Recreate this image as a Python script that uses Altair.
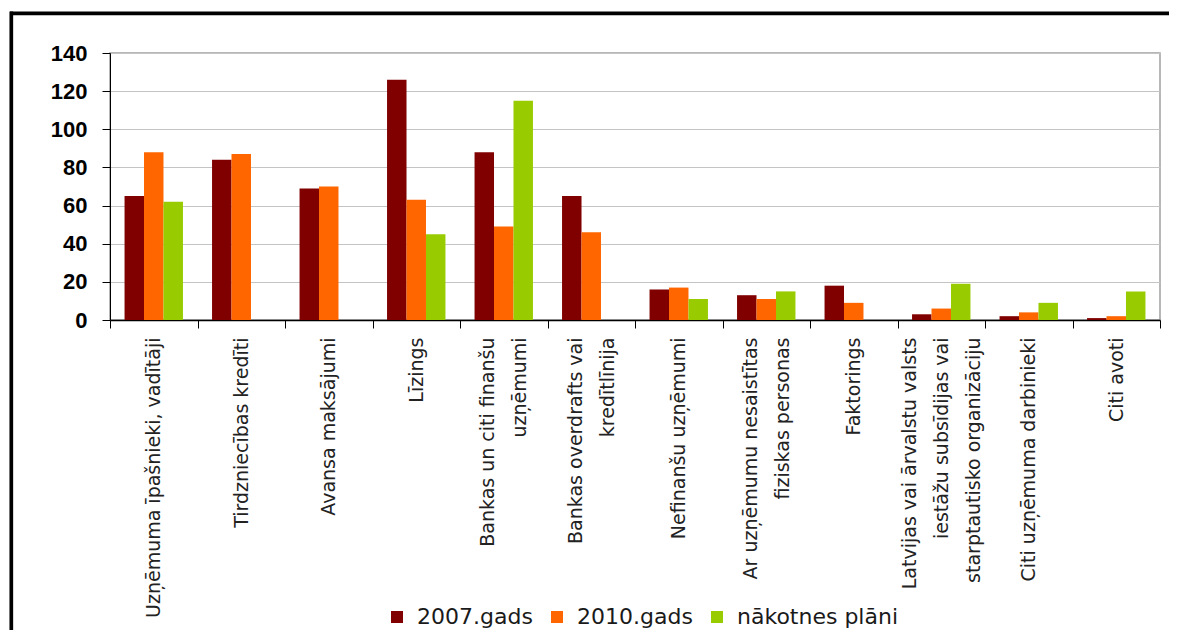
import altair as alt
import pandas as pd

categories = [
    "Uzņēmuma īpašnieki, vadītāji",
    "Tirdzniecības kredīti",
    "Avansa maksājumi",
    "Līzings",
    "Bankas un citi finanšu|uzņēmumi",
    "Bankas overdrafts vai|kredītlīnija",
    "Nefinanšu uzņēmumi",
    "Ar uzņēmumu nesaistītas|fiziskas personas",
    "Faktorings",
    "Latvijas vai ārvalstu valsts|iestāžu subsīdijas vai|starptautisko organizāciju",
    "Citi uzņēmuma darbinieki",
    "Citi avoti",
]
series = ["2007.gads", "2010.gads", "nākotnes plāni"]
v2007 = [65, 84, 69, 126, 88, 65, 16, 13, 18, 3, 2, 1]
v2010 = [88, 87, 70, 63, 49, 46, 17, 11, 9, 6, 4, 2]
v_plans = [62, None, None, 45, 115, None, 11, 15, None, 19, 9, 15]
colors = ["#800000", "#FF6600", "#99CC00"]
y_ticks = [0, 20, 40, 60, 80, 100, 120, 140]

rows = []
for name, vals in zip(series, [v2007, v2010, v_plans]):
    for c, v in zip(categories, vals):
        if v is not None:
            rows.append({"cat": c, "series": name, "value": v})
df = pd.DataFrame(rows)

W, H = 1050, 267
LINE_H = 32

bars = alt.Chart(df).mark_bar().encode(
    x=alt.X(
        "cat:N",
        sort=categories,
        title=None,
        scale=alt.Scale(paddingInner=0, paddingOuter=0),
        axis=alt.Axis(
            tickBand="extent",
            labelAngle=270,
            labelAlign="right",
            labelBaseline="middle",
            labelExpr="split(datum.label, '|')",
            labelFont="DejaVu Sans",
            labelFontSize=19,
            labelColor="#222222",
            labelLineHeight=LINE_H,
            labelOffset={
                "condition": [
                    {"test": "length(split(datum.label, '|')) == 3", "value": -LINE_H},
                    {"test": "length(split(datum.label, '|')) == 2", "value": -LINE_H / 2},
                ],
                "value": 0,
            },
            labelPadding=9,
            labelLimit=400,
            labelOverlap=False,
            tickSize=8,
            tickColor="#000000",
            domainColor="#000000",
            domainWidth=1.5,
            grid=False,
        ),
    ),
    xOffset=alt.XOffset(
        "series:N", sort=series,
        scale=alt.Scale(paddingInner=0, paddingOuter=0.747),
    ),
    y=alt.Y(
        "value:Q",
        title=None,
        scale=alt.Scale(domain=[0, 140], nice=False),
        axis=alt.Axis(
            values=y_ticks,
            labelFont="Liberation Sans",
            labelFontWeight="bold",
            labelFontSize=22,
            labelColor="#000000",
            labelPadding=15,
            tickSize=8,
            tickColor="#000000",
            domainColor="#000000",
            domainWidth=1,
            grid=True,
            gridColor="#c4c4c4",
            gridWidth=1,
        ),
    ),
    color=alt.Color(
        "series:N",
        sort=series,
        scale=alt.Scale(domain=series, range=colors),
        legend=alt.Legend(
            title=None,
            orient="none",
            direction="horizontal",
            legendX=276,
            legendY=553,
            symbolType="square",
            symbolSize=144,
            symbolStrokeWidth=0,
            labelFont="DejaVu Sans",
            labelFontSize=22,
            labelColor="#1a1a1a",
            labelOffset=9,
            labelLimit=400,
            columnPadding=13,
            padding=0,
        ),
    ),
)

one = pd.DataFrame({"k": [0]})
frame_top = alt.Chart(one).mark_rule(color="#000000", strokeWidth=3.7).encode(
    x=alt.value(-100), x2=alt.value(1070), y=alt.value(-39.7)
)
frame_left = alt.Chart(one).mark_rule(color="#000000", strokeWidth=3.7).encode(
    x=alt.value(-98.7), y=alt.value(-41.5), y2=alt.value(640)
)

chart = alt.layer(frame_top, frame_left, bars).properties(
    width=W,
    height=H,
    autosize=alt.AutoSizeParams(type="none"),
    padding={"left": 102, "top": 45, "right": 9, "bottom": 310},
    background="#ffffff",
).configure_view(stroke="#a0a0a0", strokeWidth=1.5)

chart.save("out.html", embed_options={"renderer": "svg", "actions": False})
